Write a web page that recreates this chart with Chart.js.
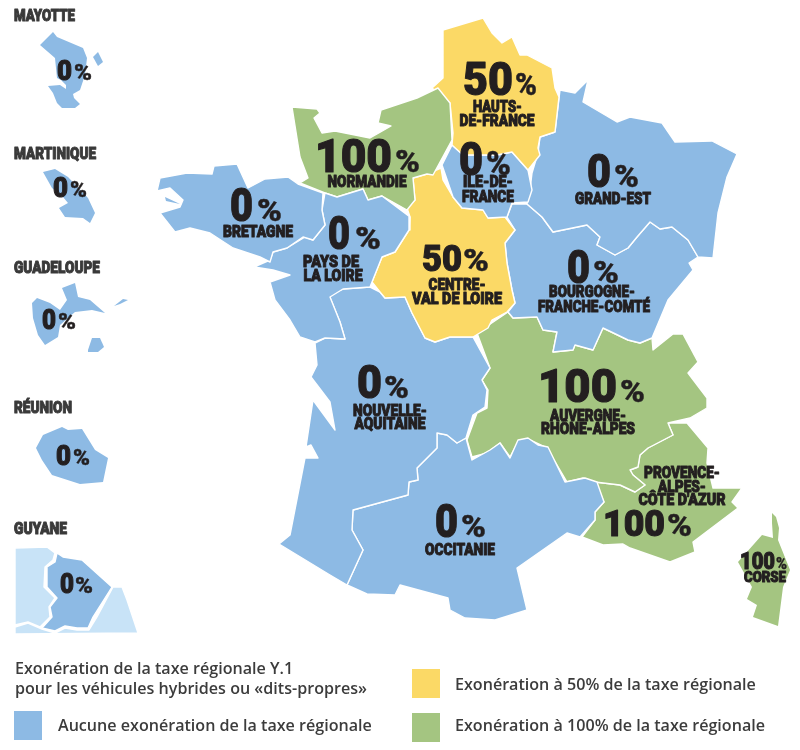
<!DOCTYPE html>
<html lang="fr">
<head>
<meta charset="utf-8">
<title>Exonération de la taxe régionale Y.1</title>
<script src="https://cdn.jsdelivr.net/npm/chart.js"></script>
<style>
  html, body { margin: 0; padding: 0; background: #fff; }
  #wrap { position: relative; width: 800px; height: 750px; overflow: hidden; }
  #wrap canvas { position: absolute; left: 0; top: 0; }
  .note { position: absolute; font: 600 16.1px "Open Sans", sans-serif; color: #3c3c3c; white-space: nowrap; line-height: 20px; }
  .swatch { position: absolute; width: 28px; height: 29px; }
</style>
</head>
<body>
<div id="wrap">
  <canvas id="carte" width="800" height="750"></canvas>
  <div class="note" style="left:15px;top:658px">Exonération de la taxe régionale Y.1<br>pour les véhicules hybrides ou «dits-propres»</div>
  <div class="swatch" id="sw0" style="left:14px;top:711px"></div>
  <div class="note" id="lg0" style="left:58px;top:715px"></div>
  <div class="swatch" id="sw50" style="left:412px;top:669px"></div>
  <div class="note" id="lg50" style="left:455px;top:674px"></div>
  <div class="swatch" id="sw100" style="left:412px;top:713px"></div>
  <div class="note" id="lg100" style="left:455px;top:715px"></div>
</div>
<script>
"use strict";
// Taux d'exonération par région
const regionNames = ['Mayotte', 'Martinique', 'Guadeloupe', 'Réunion', 'Guyane', 'Bretagne', 'Pays de la Loire',
  'Normandie', 'Hauts-de-France', 'Ile-de-France', 'Grand-Est', 'Centre-Val de Loire', 'Bourgogne-Franche-Comté',
  'Nouvelle-Aquitaine', 'Occitanie', 'Auvergne-Rhône-Alpes', 'Provence-Alpes-Côte d\'Azur', 'Corse'];
const regionRates = [0, 0, 0, 0, 0, 0, 0, 100, 50, 0, 0, 50, 0, 0, 0, 100, 100, 100];
const legendRates = [0, 50, 100];
const legendLabels = ['Aucune exonération de la taxe régionale', 'Exonération à 50% de la taxe régionale', 'Exonération à 100% de la taxe régionale'];

// Contours (coordonnées de la carte)
const mayotte = [[53,32],[57,37],[83,48],[87,58],[85,75],[80,90],[73,94],[74,98],[80,104],[75,108],[62,108],[57,103],[53,93],[48,86],[60,85],[66,89],[66,85],[61,80],[57,78],[55,58],[40,45]];
const mayotteIlot = [[98,52],[103,62],[98,66],[93,57]];
const martinique = [[43,172],[55,169],[68,177],[88,198],[95,213],[90,223],[83,218],[65,217],[59,208],[68,203],[63,197],[52,188]];
const guadeloupe = [[32,303],[37,298],[50,303],[60,310],[67,300],[62,288],[75,283],[78,297],[90,300],[105,313],[92,310],[75,312],[60,325],[58,337],[45,345],[38,335],[33,318]];
const marieGalante = [[88,350],[92,338],[100,338],[104,347],[98,352],[88,352]];
const desirade = [[114,306],[123,299],[128,300],[120,304]];
const reunion = [[36,448],[43,435],[62,427],[68,430],[82,429],[95,450],[108,458],[103,482],[80,484],[52,475],[42,460]];
const guyane = [[57,553],[63,557],[82,560],[112,587],[93,617],[88,628],[77,628],[65,626],[55,631],[42,628],[52,617],[50,607],[57,598],[47,587],[47,567],[55,562]];
const suriname = [[15,548],[47,547],[55,553],[53,560],[45,567],[44,587],[55,598],[49,607],[50,617],[40,627],[28,622],[15,625]];
const bresil = [[15,627],[28,623],[42,629],[55,633],[65,628],[77,630],[89,630],[97,617],[113,587],[122,587],[127,600],[138,633],[15,634]];
const bretagne = [[157,191],[160,178],[187,173],[212,174],[214,166],[237,164],[248,188],[265,179],[288,177],[298,184],[323,193],[322,210],[325,225],[313,240],[303,237],[287,248],[273,252],[270,262],[260,257],[233,248],[210,233],[190,228],[175,232],[160,213],[180,207],[183,200],[170,188]];
const crozon = [[165,197],[180,204],[166,201]];
const paysDeLoire = [[325,193],[337,197],[363,189],[368,200],[382,196],[410,217],[409,230],[395,252],[382,257],[372,282],[370,287],[343,289],[330,297],[340,322],[345,339],[325,338],[315,342],[300,337],[290,320],[275,300],[270,282],[290,275],[273,270],[254,267],[270,260],[273,252],[287,248],[305,237],[313,240],[325,225],[322,210]];
const normandie = [[292,107],[317,109],[320,113],[314,118],[322,133],[335,131],[370,138],[391,126],[378,123],[381,110],[417,98],[438,88],[450,103],[452,140],[433,175],[427,174],[413,178],[415,200],[407,210],[382,196],[368,200],[363,189],[337,197],[325,193],[300,183],[308,178],[300,157]];
const hautsDeFrance = [[443,30],[483,18],[492,33],[502,43],[512,37],[520,55],[527,55],[552,68],[555,88],[559,97],[555,132],[540,137],[538,148],[540,155],[528,170],[512,152],[497,155],[463,155],[452,145],[453,133],[450,103],[432,88],[443,78]];
const ileDeFrance = [[452,145],[463,155],[497,155],[512,152],[528,170],[532,190],[528,202],[512,203],[507,217],[488,218],[483,210],[462,208],[453,197],[442,165]];
const grandEst = [[560,90],[575,93],[588,80],[583,102],[617,122],[630,117],[662,123],[675,142],[712,141],[737,154],[727,177],[718,213],[713,258],[698,257],[688,240],[672,227],[660,229],[650,222],[637,237],[628,248],[615,255],[597,245],[600,237],[587,225],[553,232],[542,217],[527,204],[530,190],[532,173],[538,153],[540,137],[555,132]];
const centreVdl = [[441,168],[443,180],[453,197],[462,208],[483,210],[488,218],[505,217],[515,230],[505,243],[507,263],[512,290],[515,303],[507,312],[492,320],[488,328],[473,337],[450,337],[435,342],[425,338],[412,313],[405,297],[385,298],[380,292],[372,282],[382,257],[395,252],[409,230],[410,217],[407,208],[415,200],[413,178],[427,174]];
const bourgogneFc = [[512,204],[527,204],[542,217],[553,232],[587,225],[600,237],[597,245],[615,255],[628,248],[637,237],[650,222],[660,229],[672,227],[688,240],[698,257],[689,263],[693,270],[668,300],[652,338],[640,343],[628,340],[603,328],[593,350],[575,345],[573,350],[553,352],[557,332],[543,330],[537,317],[513,318],[508,312],[515,303],[512,290],[507,263],[505,243],[515,230],[507,217]];
const nouvelleAquitaine = [[329,295],[343,289],[370,287],[380,292],[385,298],[405,297],[412,313],[425,338],[435,342],[450,337],[473,337],[490,368],[482,380],[487,390],[485,407],[473,415],[466,438],[457,443],[447,435],[437,433],[437,448],[417,468],[418,480],[409,482],[408,495],[353,510],[352,530],[363,550],[347,585],[330,575],[279,544],[290,535],[305,458],[318,458],[311,445],[306,447],[313,400],[335,430],[330,402],[311,377],[317,365],[315,343],[325,338],[345,339],[340,322]];
const occitanie = [[437,433],[447,435],[457,443],[466,438],[472,460],[490,450],[500,443],[510,458],[518,440],[528,438],[538,445],[548,447],[565,482],[585,478],[597,482],[604,502],[595,512],[595,520],[580,537],[567,533],[517,568],[527,610],[495,620],[465,618],[450,610],[448,598],[400,585],[395,595],[367,594],[347,585],[363,550],[352,530],[353,510],[408,495],[409,482],[418,480],[417,468],[437,448]];
const auvergneRa = [[477,333],[508,312],[513,318],[537,317],[543,330],[557,332],[553,352],[573,350],[575,345],[593,350],[603,328],[628,340],[640,343],[652,338],[653,350],[673,334],[683,334],[698,362],[688,373],[707,398],[707,408],[690,418],[668,423],[673,435],[648,448],[640,455],[638,467],[630,470],[633,475],[645,485],[635,492],[620,485],[595,482],[583,478],[567,482],[557,465],[547,448],[530,440],[518,442],[510,457],[500,443],[487,453],[472,457],[467,440],[477,413],[487,408],[488,390],[482,380],[490,368]];
const provenceAca = [[668,423],[687,423],[708,448],[707,463],[713,488],[742,488],[732,502],[738,508],[693,542],[695,552],[670,562],[630,548],[623,544],[603,545],[582,537],[595,520],[595,512],[604,502],[595,482],[620,485],[635,492],[645,485],[633,475],[630,470],[638,467],[640,455],[648,448],[673,435]];
const corse = [[772,513],[776,517],[779,528],[778,540],[790,570],[783,587],[778,626],[753,617],[757,605],[747,599],[752,587],[738,562],[762,535],[773,538],[772,523]];

const rateColors = { 0: '#8dbae4', 50: '#fbd966', 100: '#a4c581' };
const INK = '#231f20';
const INK_TITLE = '#3a3a3a';

// un ou plusieurs contours par région, même ordre que regionNames
const regionShapes = [[mayotte, mayotteIlot], [martinique], [guadeloupe, marieGalante, desirade], [reunion], [guyane], [bretagne, crozon], [paysDeLoire],
  [normandie], [hautsDeFrance], [ileDeFrance], [grandEst], [centreVdl], [bourgogneFc], [nouvelleAquitaine], [occitanie], [auvergneRa], [provenceAca], [corse]];
// les îles n'ont pas de voisin, donc pas de liseré blanc
const isolated = [mayotte, mayotteIlot, martinique, guadeloupe, marieGalante, desirade, reunion, corse, crozon];

function shapeDataset(label, outline, color) {
  const pts = outline.map(p => ({ x: p[0], y: p[1] }));
  pts.push(pts[0]);
  return { label: label, data: pts, showLine: true, fill: 'shape', tension: 0, pointRadius: 0,
    backgroundColor: color, borderColor: '#ffffff', borderWidth: isolated.includes(outline) ? 0 : 1.4, borderJoinStyle: 'round' };
}

const datasets = [];
regionShapes.forEach((shapes, i) => shapes.forEach(s => datasets.push(shapeDataset(regionNames[i], s, rateColors[regionRates[i]]))));
datasets.push(shapeDataset('Suriname', suriname, '#c8e3f7'));
datasets.push(shapeDataset('Brésil', bresil, '#c8e3f7'));

// Etiquettes: [texte, centre x, ligne de base, corps, largeur]
const valueLabels = [
  ['0', 64.5, 80, 28, 15], ['%', 83, 80, 22, 18],
  ['0', 60.5, 197, 28, 15], ['%', 78.5, 197, 22, 17],
  ['0', 49, 329, 28, 14], ['%', 67, 329, 22, 18],
  ['0', 63.5, 465, 28, 15], ['%', 81.5, 465, 22, 17],
  ['0', 67, 593, 28, 14], ['%', 84, 593, 22, 18],
  ['0', 241.5, 221, 47, 23], ['%', 269.5, 221, 31, 25],
  ['0', 339, 249, 47, 22], ['%', 368, 249, 31, 26],
  ['100', 353.5, 172, 46, 77], ['%', 407.5, 172, 31, 25],
  ['50', 488, 95, 47, 50], ['%', 526, 95, 31, 22],
  ['0', 471, 175, 46, 24], ['%', 498.5, 175, 33, 25],
  ['0', 599, 187, 47, 24], ['%', 626.5, 187, 31, 25],
  ['50', 442, 271, 36, 40], ['%', 476, 271, 31, 26],
  ['0', 578.5, 283, 46, 23], ['%', 606, 283, 31, 26],
  ['0', 369.5, 398, 47, 25], ['%', 396.5, 398, 31, 25],
  ['0', 446.5, 537, 47, 23], ['%', 473.5, 537, 31, 25],
  ['100', 577.5, 402, 47, 79], ['%', 632.5, 402, 31, 25],
  ['100', 634, 536, 36, 62], ['%', 679.5, 536, 31, 25],
  ['100', 757.5, 569, 23, 35], ['%', 781.5, 569, 16, 11]
];
const nameLabels = [
  ['BRETAGNE', 258, 237, 16, 70], ['PAYS DE', 331, 267, 16, 56], ['LA LOIRE', 333, 281, 16, 59],
  ['NORMANDIE', 367, 187, 16, 79], ['HAUTS-', 497.5, 112, 16, 49], ['DE-FRANCE', 497, 126, 16, 75],
  ['ILE-DE-', 488, 187, 16, 50], ['FRANCE', 488, 202, 16, 52], ['GRAND-EST', 613, 204, 16, 76],
  ['CENTRE-', 457, 290, 16, 57], ['VAL DE LOIRE', 457, 304, 16, 90],
  ['BOURGOGNE-', 592, 297, 16, 86], ['FRANCHE-COMTÉ', 594, 312, 16, 112],
  ['NOUVELLE-', 390, 416, 16, 74], ['AQUITAINE', 390, 429, 16, 71], ['OCCITANIE', 460, 555, 16, 70],
  ['AUVERGNE-', 588, 421, 16, 76], ['RHÔNE-ALPES', 588, 434, 16, 94],
  ['PROVENCE-', 682, 478, 16, 76], ['ALPES-', 682, 492, 16, 48], ['CÔTE D\'AZUR', 682, 505, 16, 87],
  ['CORSE', 765, 582, 14, 42]
];
const titleLabels = [
  ['MAYOTTE', 44.5, 21, 16, 61], ['MARTINIQUE', 55, 159, 16, 82], ['GUADELOUPE', 57, 273, 16, 86],
  ['RÉUNION', 43, 413, 16, 58], ['GUYANE', 40.5, 534, 16, 53]
];

const labelsPlugin = {
  id: 'labelsCarte',
  afterDatasetsDraw(chart) {
    const ctx = chart.ctx, sx = chart.scales.x, sy = chart.scales.y;
    function stamp(item, color, heavy) {
      const font = '900 ' + item[3] + 'px Roboto, "Open Sans", sans-serif';
      ctx.save();
      ctx.font = font;
      const w = ctx.measureText(item[0]).width;
      ctx.translate(sx.getPixelForValue(item[1]), sy.getPixelForValue(item[2]));
      ctx.scale(item[4] / w, 1);
      ctx.textAlign = 'center';
      ctx.textBaseline = 'alphabetic';
      ctx.fillStyle = color;
      ctx.fillText(item[0], 0, 0);
      ctx.strokeStyle = color;
      ctx.lineWidth = heavy;
      ctx.lineJoin = 'round';
      ctx.strokeText(item[0], 0, 0);
      ctx.restore();
    }
    valueLabels.forEach(l => stamp(l, INK, l[0] === '%' ? 0.4 : 1.1));
    nameLabels.forEach(l => stamp(l, INK, 1));
    titleLabels.forEach(l => stamp(l, INK_TITLE, 1));
  }
};

new Chart(document.getElementById('carte').getContext('2d'), {
  type: 'scatter',
  data: { datasets: datasets },
  plugins: [labelsPlugin],
  options: {
    responsive: false,
    animation: false,
    layout: { padding: 0 },
    plugins: { legend: { display: false }, tooltip: { enabled: false } },
    scales: {
      x: { type: 'linear', min: 0, max: 800, display: false },
      y: { type: 'linear', min: 0, max: 750, reverse: true, display: false }
    }
  }
});

// Légende
legendRates.forEach((r, i) => {
  document.getElementById('sw' + r).style.background = rateColors[r];
  document.getElementById('lg' + r).textContent = legendLabels[i];
});
</script>
</body>
</html>
